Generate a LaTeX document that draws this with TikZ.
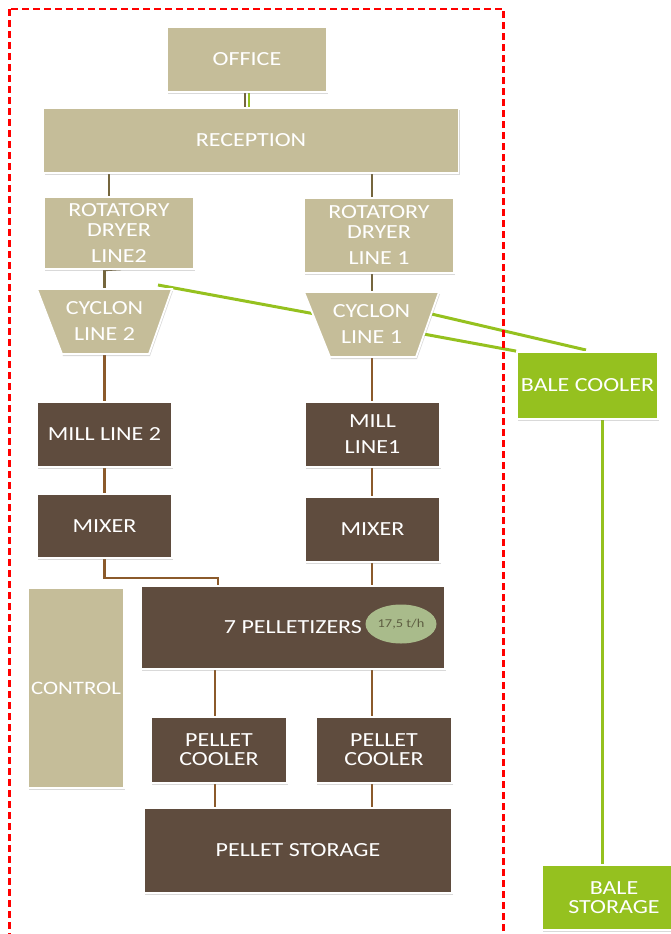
\documentclass[tikz,border=0pt]{standalone}
\usepackage{fontspec}
\setmainfont[FakeStretch=1.2]{Carlito}
\usetikzlibrary{shadows,backgrounds,shapes.geometric}
\definecolor{tanc}{HTML}{C5BD99}
\definecolor{dbrown}{HTML}{5F4C3E}
\definecolor{lgreen}{HTML}{95C11F}
\definecolor{cbrown}{HTML}{8B5A2B}
\definecolor{colive}{HTML}{75663D}
\definecolor{ellg}{HTML}{A9BB8B}
\definecolor{elltext}{HTML}{5E5E42}
\begin{document}
\begin{tikzpicture}[x=1pt,y=-1pt,
  shadowed/.style={drop shadow={shadow xshift=1pt,shadow yshift=-2pt,opacity=0.3}},
  box/.style={draw=white, line width=1.8pt, inner sep=0pt, align=center, text=white,
    font=\fontsize{20}{26}\selectfont, shadowed},
  tanbox/.style={box, fill=tanc},
  brownbox/.style={box, fill=dbrown},
  greenbox/.style={box, fill=lgreen},
  trap/.style={draw=white, line width=1.8pt, fill=tanc, shadowed},
  label/.style={inner sep=0pt, align=center, text=white, font=\fontsize{20}{26}\selectfont},
  olivecon/.style={draw=colive, line width=2.6pt},
  browncon/.style={draw=cbrown, line width=2.8pt},
  greencon/.style={draw=lgreen, line width=3pt},
]
\useasboundingbox (0,0) rectangle (671,934);
\clip (0,0) rectangle (671,934);

% boxes
\node[tanbox, minimum width=160pt, minimum height=65pt] (office) at (247,59.5) {OFFICE};
\node[tanbox, minimum width=415pt, minimum height=65pt] (reception) at (251,140.5) {RECEPTION};
\node[tanbox, minimum width=150pt, minimum height=72pt] (dryer2) at (119,233) {ROTATORY\\[-6pt]DRYER\\LINE2};
\node[tanbox, minimum width=150pt, minimum height=75pt] (dryer1) at (379,235.5) {ROTATORY\\[-6pt]DRYER\\LINE 1};

\path[trap] (37,289) -- (172,289) -- (149,354) -- (62,354) -- cycle;
\node[label, minimum width=135pt, minimum height=65pt] (cyclon2) at (104.5,321.5) {CYCLON\\LINE 2};
\path[trap] (304,292) -- (439,292) -- (416,357) -- (330,357) -- cycle;
\node[label, minimum width=135pt, minimum height=65pt] (cyclon1) at (371.5,324.5) {CYCLON\\LINE 1};

\node[brownbox, minimum width=135pt, minimum height=65pt] (mill2) at (104.5,434.5) {MILL LINE 2};
\node[brownbox, minimum width=135pt, minimum height=65pt] (mill1) at (372.5,434.5) {MILL\\LINE1};
\node[brownbox, minimum width=135pt, minimum height=64pt] (mixer2) at (104.5,526) {MIXER};
\node[brownbox, minimum width=135pt, minimum height=65pt] (mixer1) at (372.5,529.5) {MIXER};

\node[brownbox, minimum width=304pt, minimum height=83pt] (pellet) at (293,627.5) {7 PELLETIZERS};
\node[ellipse, fill=ellg, minimum width=71pt, minimum height=39pt, inner sep=0pt,
  text=elltext, font=\fontsize{12}{13}\selectfont] (rate) at (401,624) {17,5 t/h};

\node[tanbox, minimum width=96pt, minimum height=200pt, font=\fontsize{19}{26}\selectfont] (control) at (76,688) {CONTROL};

\node[brownbox, minimum width=136pt, minimum height=66pt, font=\fontsize{20}{19}\selectfont] (cooler2) at (219,750) {PELLET\\COOLER};
\node[brownbox, minimum width=136pt, minimum height=66pt, font=\fontsize{20}{19}\selectfont] (cooler1) at (384,750) {PELLET\\COOLER};
\node[brownbox, minimum width=308pt, minimum height=85pt] (storage) at (298,850.5) {PELLET STORAGE};

\node[greenbox, minimum width=141pt, minimum height=67pt] (balecooler) at (587.5,385.5) {BALE COOLER};
\node[greenbox, minimum width=144pt, minimum height=65pt, font=\fontsize{20}{19}\selectfont] (balestorage) at (614,897.5) {BALE\\STORAGE};

% helper coordinates for line positions
\coordinate (cA) at (109,0);
\coordinate (cB) at (372,0);
\coordinate (cC) at (215,0);
\coordinate (cD) at (218,0);
\coordinate (cE) at (602,0);
\coordinate (gA) at (158,285);
\coordinate (gB) at (410,309);
\coordinate (gBend) at (586,350);
\coordinate (stub) at (121,0);
\coordinate (bendy) at (0,578);

\begin{pgfonlayer}{background}
  % green lines
  \draw[greencon] (gA) -- (balecooler.north west);
  \draw[greencon] (gB) -- (gBend);
  \draw[greencon] (balecooler.south -| cE) -- (balestorage.north -| cE);
  % office to reception
  \draw[olivecon, line width=1.6pt] ([xshift=-2pt]office.south) -- ([xshift=-2pt]office.south |- reception.north);
  \draw[draw=lgreen, line width=1.6pt] ([xshift=2pt]office.south) -- ([xshift=2pt]office.south |- reception.north);
  % reception to dryers
  \draw[olivecon] (reception.south -| cA) -- (dryer2.north -| cA);
  \draw[olivecon] (reception.south -| cB) -- (dryer1.north -| cB);
  % dryers to cyclons
  \draw[olivecon] (cyclon2.north) -- (cyclon2.north |- dryer2.south) -- ([yshift=1pt]dryer2.south -| stub);
  \draw[olivecon] (dryer1.south -| cB) -- (cyclon1.north -| cB);
  % cyclons to mills
  \draw[browncon] (cyclon2.south) -- (mill2.north);
  \draw[browncon] (cyclon1.south -| cB) -- (mill1.north -| cB);
  % mills to mixers
  \draw[browncon] (mill2.south) -- (mixer2.north);
  \draw[browncon] (mill1.south -| cB) -- (mixer1.north -| cB);
  % mixers to pelletizers
  \draw[browncon] (mixer2.south) -- (mixer2.south |- bendy) -- (cD |- bendy) -- (pellet.north -| cD);
  \draw[browncon] (mixer1.south -| cB) -- (pellet.north -| cB);
  % pelletizers to coolers
  \draw[browncon] (pellet.south -| cC) -- (cooler2.north -| cC);
  \draw[browncon] (pellet.south -| cB) -- (cooler1.north -| cB);
  % coolers to storage
  \draw[browncon] (cooler2.south -| cC) -- (storage.north -| cC);
  \draw[browncon] (cooler1.south -| cB) -- (storage.north -| cB);
\end{pgfonlayer}

% red dashed boundary
\draw[red, line width=2.4pt, dash pattern=on 7pt off 4pt] (9.5,9) rectangle (503.5,960);
\end{tikzpicture}
\end{document}
